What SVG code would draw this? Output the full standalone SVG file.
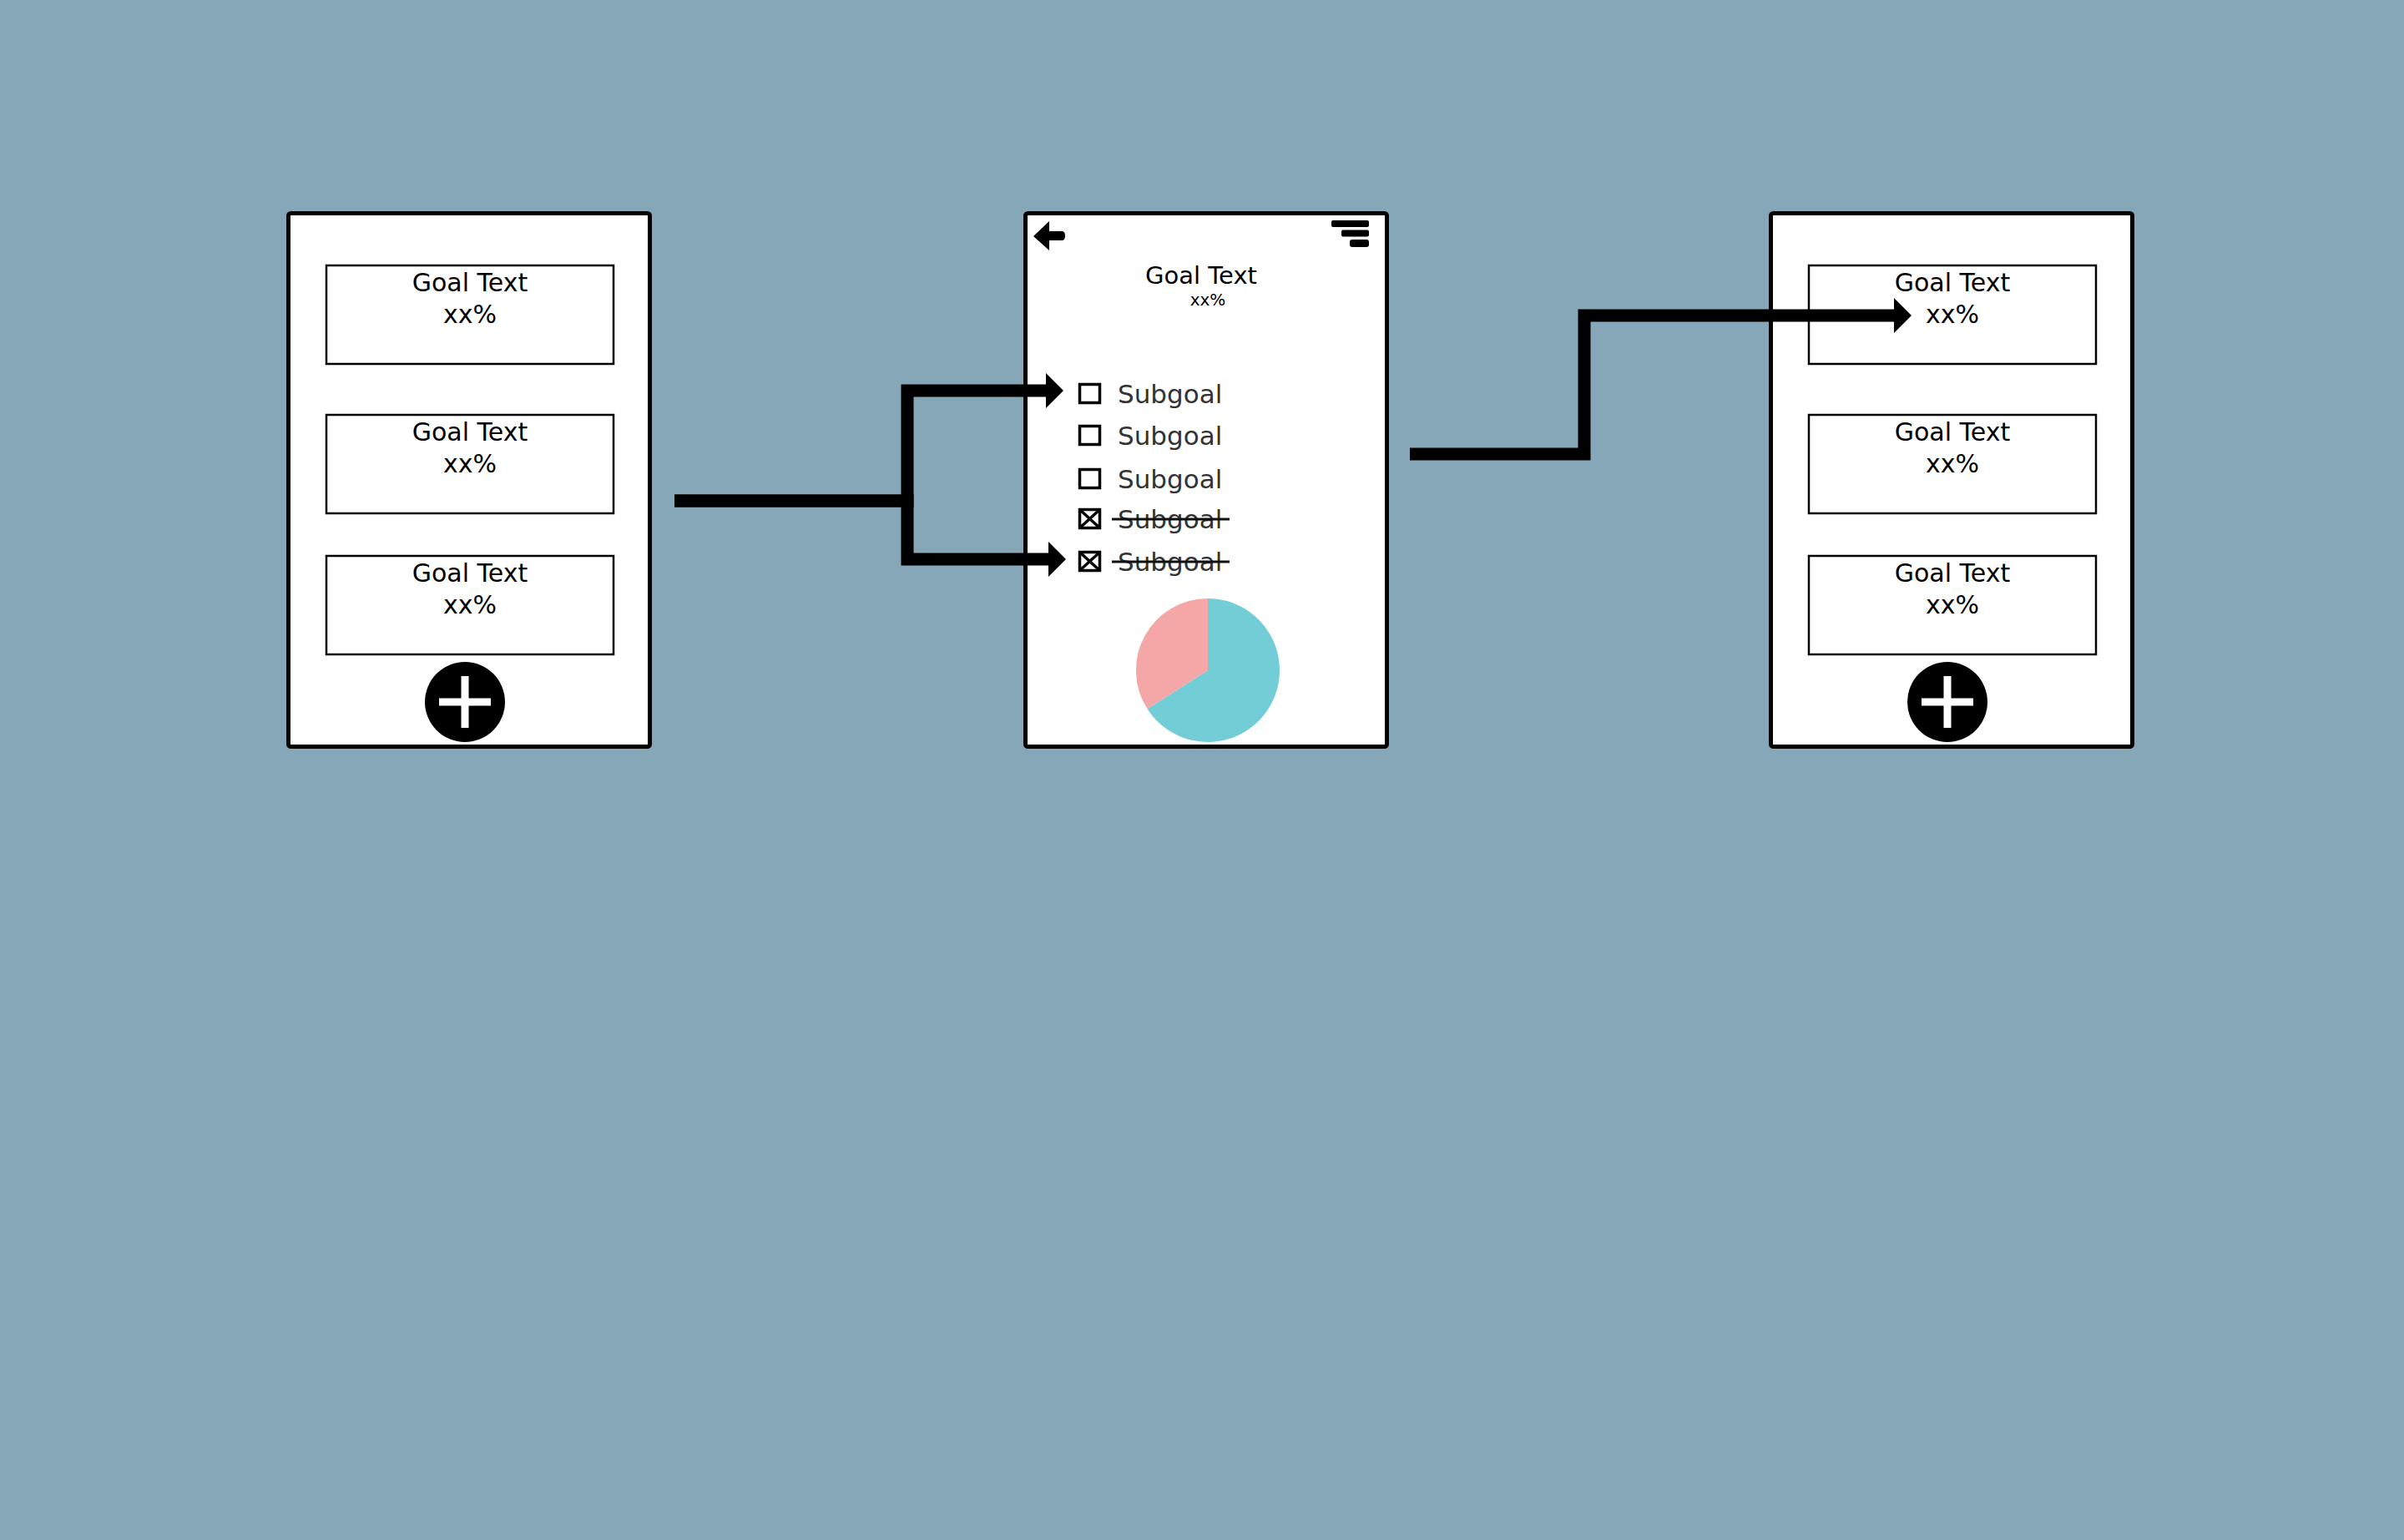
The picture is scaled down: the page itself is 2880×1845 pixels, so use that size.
<svg xmlns="http://www.w3.org/2000/svg" width="2880" height="1845" viewBox="0 0 2880 1845">
<style>
.phone{fill:#fff;stroke:#000;stroke-width:5}
.box{fill:#fff;stroke:#000;stroke-width:2.5}
.t{font-family:"DejaVu Sans","Liberation Sans",sans-serif;fill:#000;text-anchor:middle}
.g{font-size:30px}
.sg{font-family:"DejaVu Sans","Liberation Sans",sans-serif;font-size:31px;fill:#333}
.cb{fill:none;stroke:#000;stroke-width:3.5}
.strike{stroke:#111;stroke-width:3}
.conn{fill:none;stroke:#000;stroke-width:15;stroke-linejoin:miter}
.plus{fill:#fff}
</style>
<defs>
<marker id="arr" markerUnits="userSpaceOnUse" markerWidth="24" markerHeight="44" viewBox="0 -22 22 44" refX="0" refY="0" orient="auto" overflow="visible">
<path d="M0,-21 L21,0 L0,21 Z" fill="#000"/>
</marker>
</defs>
<rect width="2880" height="1845" fill="#86A7B7"/>

<g id="phone-left">
<rect class="phone" x="345.5" y="255.5" width="433" height="639" rx="3"/>
<rect class="box" x="391" y="318" width="344" height="118"/>
<text class="t g" x="563" y="349">Goal Text</text>
<text class="t g" x="563" y="387">xx%</text>
<rect class="box" x="391" y="497" width="344" height="118"/>
<text class="t g" x="563" y="528">Goal Text</text>
<text class="t g" x="563" y="566">xx%</text>
<rect class="box" x="391" y="666" width="344" height="118"/>
<text class="t g" x="563" y="697">Goal Text</text>
<text class="t g" x="563" y="735">xx%</text>
<g id="add-left">
<circle cx="557" cy="841" r="48" fill="#000"/>
<rect class="plus" x="526" y="836.5" width="62" height="9"/>
<rect class="plus" x="552.5" y="810" width="9" height="62"/>
</g>
</g>

<g id="phone-middle">
<rect class="phone" x="1228.5" y="255.5" width="433" height="639" rx="3"/>
<path d="M1238,283 L1257,265 L1257,277 L1272,277 Q1276,277 1276,282.5 Q1276,288 1272,288 L1257,288 L1257,300 Z" fill="#000"/>
<rect x="1595" y="264" width="45" height="8" rx="2" fill="#000"/>
<rect x="1607" y="275.5" width="33" height="8" rx="2" fill="#000"/>
<rect x="1617" y="287" width="23" height="9" rx="3" fill="#000"/>
<text class="t" x="1439" y="340" font-size="29">Goal Text</text>
<text class="t" x="1447" y="366" font-size="20">xx%</text>
<rect class="cb" x="1293.5" y="460.5" width="24" height="22"/>
<text class="sg" x="1339" y="483">Subgoal</text>
<rect class="cb" x="1293.5" y="510.5" width="24" height="22"/>
<text class="sg" x="1339" y="533">Subgoal</text>
<rect class="cb" x="1293.5" y="562.5" width="24" height="22"/>
<text class="sg" x="1339" y="585">Subgoal</text>
<rect class="cb" x="1293.5" y="610.5" width="24" height="22"/>
<path class="cb" d="M1293.5,610.5 L1317.5,632.5 M1317.5,610.5 L1293.5,632.5"/>
<text class="sg" x="1339" y="633">Subgoal</text>
<line class="strike" x1="1332" y1="622" x2="1473" y2="622"/>
<rect class="cb" x="1293.5" y="661.5" width="24" height="22"/>
<path class="cb" d="M1293.5,661.5 L1317.5,683.5 M1317.5,661.5 L1293.5,683.5"/>
<text class="sg" x="1339" y="684">Subgoal</text>
<line class="strike" x1="1332" y1="673" x2="1473" y2="673"/>
<g id="pie">
<path d="M1447,803 L1447,717 A86,86 0 1 1 1374.5,849.3 Z" fill="#72CDD6"/>
<path d="M1447,803 L1447,717 A86,86 0 0 0 1374.5,849.3 Z" fill="#F5A7A7"/>
</g>
</g>

<g id="phone-right">
<rect class="phone" x="2121.5" y="255.5" width="433" height="639" rx="3"/>
<rect class="box" x="2167" y="318" width="344" height="118"/>
<text class="t g" x="2339" y="349">Goal Text</text>
<text class="t g" x="2339" y="387">xx%</text>
<rect class="box" x="2167" y="497" width="344" height="118"/>
<text class="t g" x="2339" y="528">Goal Text</text>
<text class="t g" x="2339" y="566">xx%</text>
<rect class="box" x="2167" y="666" width="344" height="118"/>
<text class="t g" x="2339" y="697">Goal Text</text>
<text class="t g" x="2339" y="735">xx%</text>
<g id="add-right">
<circle cx="2333" cy="841" r="48" fill="#000"/>
<rect class="plus" x="2302" y="836.5" width="62" height="9"/>
<rect class="plus" x="2328.5" y="810" width="9" height="62"/>
</g>
</g>

<g id="connectors">
<path class="conn" d="M808,600 H1087 V468 H1253" marker-end="url(#arr)"/>
<path class="conn" d="M808,600 H1087 V670 H1256" marker-end="url(#arr)"/>
<path class="conn" d="M1689,544 H1898 V378 H2269" marker-end="url(#arr)"/>
</g>
</svg>
